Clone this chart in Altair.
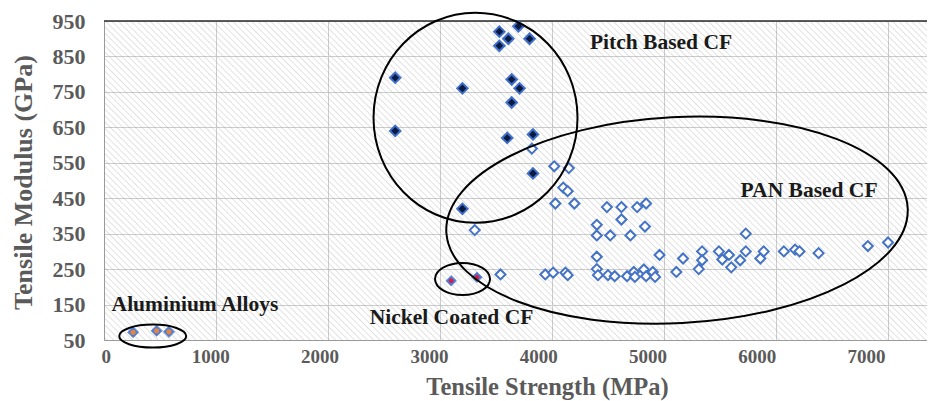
import altair as alt
import pandas as pd

# ---------------- data ----------------
pitch_x = [2600, 2600, 3200, 3530, 3700, 3610, 3530, 3800, 3640, 3710, 3640, 3600, 3830, 3830, 3200]
pitch_y = [790, 640, 760, 920, 935, 900, 880, 900, 785, 760, 720, 620, 630, 520, 420]

pan_x = [3310, 3540, 3820, 4020, 4150, 4100, 4140, 4030, 4200, 3940, 4010, 4120, 4140,
         4400, 4400, 4400, 4400, 4410, 4490, 4620, 4760, 4840, 4620, 4830, 4520, 4700,
         4500, 4560, 4670, 4730, 4740, 4820, 4840, 4900, 4920, 4960, 5110, 5170, 5310,
         5340, 5340, 5490, 5520, 5580, 5600, 5680, 5730, 5730, 5860, 5890, 6070, 6170,
         6210, 6380, 6820, 7000]
pan_y = [360, 235, 590, 540, 535, 480, 470, 435, 435, 235, 240, 240, 233,
         375, 345, 285, 250, 233, 425, 425, 425, 435, 390, 370, 345, 345,
         233, 230, 230, 242, 228, 249, 230, 242, 228, 290, 242, 280, 250,
         300, 275, 300, 277, 290, 255, 275, 300, 350, 280, 300, 300, 305,
         300, 295, 315, 325]

nickel_x = [3100, 3330]
nickel_y = [217, 227]

alu_x = [260, 470, 580]
alu_y = [72, 76, 73]

x_ticks = [0, 1000, 2000, 3000, 4000, 5000, 6000, 7000]
y_ticks = [50, 150, 250, 350, 450, 550, 650, 750, 850, 950]

labels = ["Pitch Based CF", "PAN Based CF", "Nickel Coated CF", "Aluminium Alloys"]
label_x = [4973, 6295, 3103, 812]
label_y = [889, 470, 111, 149]

# group outlines: centre (data units), half axes (px), tilt
ell_x = [3317, 5116, 3201, 435]
ell_y = [677, 388, 222, 61]
ell_a = [102, 231, 27.5, 33.5]
ell_b = [105, 103, 16, 11.5]
ell_angle = [0, 357, 0, 0]

# ---------------- styling ----------------
FONT = "Liberation Serif"
GRAY = "#5a5a5a"
W, H = 823, 319
X_MAX = 7348

xscale = alt.Scale(domain=[0, X_MAX], nice=False, zero=False)
yscale = alt.Scale(domain=[50, 950], nice=False, zero=False)

xaxis = alt.Axis(values=x_ticks, grid=True, gridColor="#cccccc", labels=False,
                 ticks=False, domainColor="#9a9a9a", title=None)
yaxis = alt.Axis(values=y_ticks, grid=True, gridColor="#cccccc", ticks=False,
                 domainColor="#9a9a9a", labelFont=FONT, labelFontWeight="bold",
                 labelFontSize=22, labelColor=GRAY, labelPadding=19,
                 title="Tensile Modulus (GPa)", titleFont=FONT, titleFontWeight="bold",
                 titleFontSize=26, titleColor=GRAY, titleX=-81, titleY=161,
                 titleAngle=270, titleAlign="center", titleBaseline="middle")


def X():
    return alt.X("x:Q", scale=xscale, axis=xaxis)


def Y():
    return alt.Y("y:Q", scale=yscale, axis=yaxis)


# hatched plot background (soft diagonal stripes)
N = 180
stops = []
for i in range(N):
    stops += [
        alt.GradientStop(offset=i / N, color="rgba(150,150,150,0)"),
        alt.GradientStop(offset=(i + 0.3) / N, color="rgba(150,150,150,0)"),
        alt.GradientStop(offset=(i + 0.5) / N, color="rgba(150,150,150,0.3)"),
        alt.GradientStop(offset=(i + 0.7) / N, color="rgba(150,150,150,0)"),
    ]
r = H / W
c = (1 + r) / (1 + r * r)
hatch = alt.LinearGradient(gradient="linear", stops=stops, x1=0, y1=1, x2=c, y2=1 - c * r)

bg = alt.Chart(pd.DataFrame({"x": [0], "x2": [X_MAX], "y": [50], "y2": [950]})).mark_rect(
    fill=hatch).encode(x=X(), x2="x2:Q", y=Y(), y2="y2:Q")

df_pan = pd.DataFrame({"x": pan_x, "y": pan_y})
df_pitch = pd.DataFrame({"x": pitch_x, "y": pitch_y})
df_ni = pd.DataFrame({"x": nickel_x, "y": nickel_y})
df_al = pd.DataFrame({"x": alu_x, "y": alu_y})
df_lab = pd.DataFrame({"x": label_x, "y": label_y, "t": labels})

paths, sizes = [], []
for a, b in zip(ell_a, ell_b):
    k = b / a
    paths.append(f"M-1,0A1,{k:.4f} 0 1,0 1,0A1,{k:.4f} 0 1,0 -1,0Z")
    sizes.append(4 * a * a)
df_ell = pd.DataFrame({"x": ell_x, "y": ell_y, "shape": paths, "size": sizes, "angle": ell_angle})

top = alt.Chart(pd.DataFrame({"y": [950]})).mark_rule(color="#2a2a2a", strokeWidth=1.5).encode(y=Y())

pan = alt.Chart(df_pan).mark_point(shape="diamond", filled=True, fill="white", stroke="#4472c4",
                                    strokeWidth=2, size=100, opacity=1).encode(x=X(), y=Y())
pitch = alt.Chart(df_pitch).mark_point(shape="diamond", filled=True, fill="#0b1a40", stroke="#3f6fc8",
                                        strokeWidth=2, size=110, opacity=1).encode(x=X(), y=Y())
ni = alt.Chart(df_ni).mark_point(shape="diamond", filled=True, fill="#4a78d0", stroke="#6f93dc",
                                  strokeWidth=1, size=110, opacity=1).encode(x=X(), y=Y())
ni_c = alt.Chart(df_ni).mark_point(shape="circle", filled=True, fill="#e8153c", size=20,
                                    opacity=1).encode(x=X(), y=Y())
al = alt.Chart(df_al).mark_point(shape="diamond", filled=True, fill="#4f7bd0", stroke="#7095dc",
                                  strokeWidth=1, size=125, opacity=1).encode(x=X(), y=Y())
al_c = alt.Chart(df_al).mark_point(shape="circle", filled=True, fill="#e4843e", size=26,
                                    opacity=1).encode(x=X(), y=Y())

ell = alt.Chart(df_ell).mark_point(filled=False, color="black", strokeWidth=2, opacity=1).encode(
    x=X(), y=Y(),
    shape=alt.Shape("shape:N", scale=None),
    size=alt.Size("size:Q", scale=None),
    angle=alt.Angle("angle:Q", scale=None),
)

txt = alt.Chart(df_lab).mark_text(font=FONT, fontWeight="bold", fontSize=21.5, color="#1a1a1a").encode(
    x=X(), y=Y(), text="t:N")

main = alt.layer(bg, top, pan, pitch, ni, ni_c, al, al_c, ell, txt)

# axis carrying the x tick labels (as printed, slightly compressed relative to the grid)
lab_scale = alt.Scale(domain=[0, 7530], nice=False, zero=False)
lab_axis = alt.Axis(orient="bottom", values=x_ticks, format="d", grid=False, domain=False, ticks=False,
                    labelFont=FONT, labelFontWeight="bold", labelFontSize=19, labelColor=GRAY,
                    labelPadding=7, labelOffset=-3, title="Tensile Strength (MPa)", titleFont=FONT,
                    titleFontWeight="bold", titleFontSize=24.5, titleColor=GRAY,
                    titleX=443, titleY=54, titleBaseline="alphabetic", titleAlign="center")
lab = alt.Chart(pd.DataFrame({"x": [0, 7000], "y": [50, 50]})).mark_point(opacity=0).encode(
    x=alt.X("x:Q", scale=lab_scale, axis=lab_axis), y=Y())

chart = alt.layer(main, lab).resolve_scale(x="independent").properties(
    width=W, height=H, autosize="none",
    padding={"left": 96, "top": 13, "right": 0, "bottom": 61},
    background="white",
).configure_view(fill="white", stroke=None)

chart.save("out.html", embed_options={"renderer": "svg", "actions": False})
